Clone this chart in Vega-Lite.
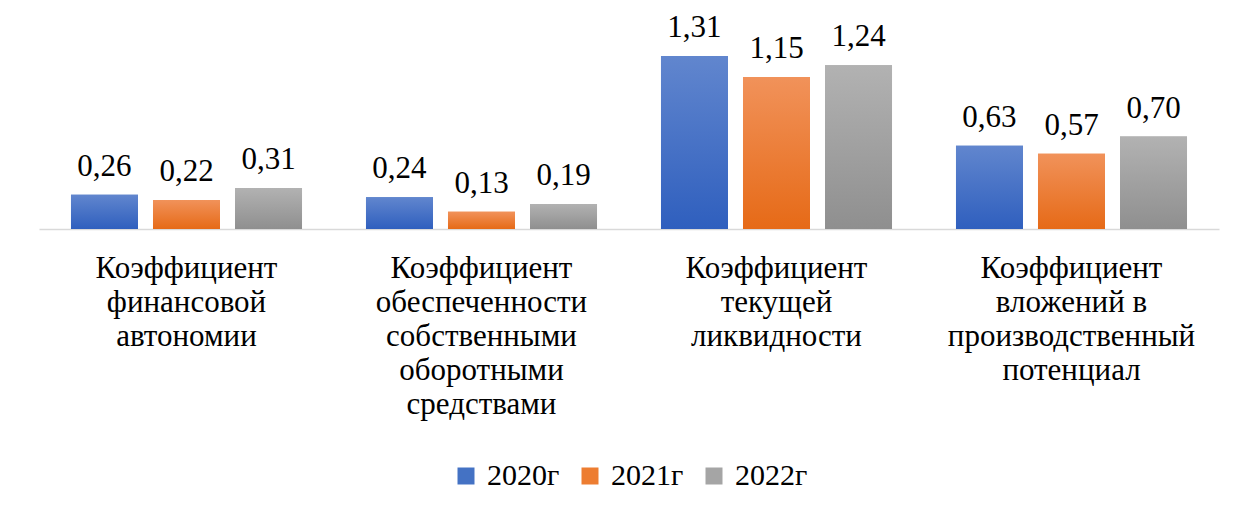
{
  "$schema": "https://vega.github.io/schema/vega-lite/v6.json",
  "width": 1180,
  "height": 185,
  "autosize": {"type": "none"},
  "padding": {"left": 39, "top": 44, "right": 19, "bottom": 281},
  "config": {
    "locale": {"number": {"decimal": ",", "thousands": " ", "grouping": [3], "currency": ["", ""]}},
    "view": {"stroke": null},
    "font": "Liberation Serif"
  },
  "data": {
    "values": [
      {"cat": "Коэффициент финансовой автономии", "year": "2020г", "value": 0.26},
      {"cat": "Коэффициент финансовой автономии", "year": "2021г", "value": 0.22},
      {"cat": "Коэффициент финансовой автономии", "year": "2022г", "value": 0.31},
      {"cat": "Коэффициент обеспеченности собственными оборотными средствами", "year": "2020г", "value": 0.24},
      {"cat": "Коэффициент обеспеченности собственными оборотными средствами", "year": "2021г", "value": 0.13},
      {"cat": "Коэффициент обеспеченности собственными оборотными средствами", "year": "2022г", "value": 0.19},
      {"cat": "Коэффициент текущей ликвидности", "year": "2020г", "value": 1.31},
      {"cat": "Коэффициент текущей ликвидности", "year": "2021г", "value": 1.15},
      {"cat": "Коэффициент текущей ликвидности", "year": "2022г", "value": 1.24},
      {"cat": "Коэффициент вложений в производственный потенциал", "year": "2020г", "value": 0.63},
      {"cat": "Коэффициент вложений в производственный потенциал", "year": "2021г", "value": 0.57},
      {"cat": "Коэффициент вложений в производственный потенциал", "year": "2022г", "value": 0.70}
    ]
  },
  "encoding": {
    "x": {
      "field": "cat",
      "type": "nominal",
      "sort": null,
      "title": null,
      "scale": {"paddingInner": 0, "paddingOuter": 0},
      "axis": {
        "labelAngle": 0,
        "labelExpr": "datum.label == 'Коэффициент вложений в производственный потенциал' ? ['Коэффициент', 'вложений в', 'производственный', 'потенциал'] : split(datum.label, ' ')",
        "labelFont": "Liberation Serif",
        "labelFontSize": 31,
        "labelLineHeight": 34,
        "labelColor": "#000000",
        "labelLimit": 0,
        "labelPadding": 24,
        "labelBaseline": "top",
        "ticks": false,
        "grid": false,
        "domainColor": "#D9D9D9",
        "domainWidth": 1.5
      }
    },
    "xOffset": {
      "field": "year",
      "type": "nominal",
      "scale": {"paddingInner": 0.183, "paddingOuter": 0.39}
    },
    "y": {
      "field": "value",
      "type": "quantitative",
      "scale": {"domain": [0, 1.4]},
      "axis": null
    }
  },
  "layer": [
    {
      "mark": {"type": "bar"},
      "encoding": {
        "color": {
          "field": "year",
          "type": "nominal",
          "scale": {
            "domain": ["2020г", "2021г", "2022г"],
            "range": ["#4472C4", "#ED7D31", "#A5A5A5"]
          },
          "legend": {
            "orient": "none",
            "legendX": 412,
            "legendY": 417,
            "direction": "horizontal",
            "title": null,
            "symbolType": "square",
            "symbolSize": 289,
            "symbolStrokeWidth": 0,
            "symbolOpacity": 1,
            "labelFont": "Liberation Serif",
            "labelFontSize": 30,
            "labelColor": "#000000",
            "columnPadding": 15,
            "labelOffset": 6
          }
        }
      }
    },
    {
      "mark": {"type": "bar"},
      "encoding": {
        "color": {
          "condition": [
            {"test": "datum.year == '2020г'", "value": {"gradient": "linear", "x1": 0, "y1": 0, "x2": 0, "y2": 1, "stops": [{"offset": 0, "color": "#6186CE"}, {"offset": 1, "color": "#2F5FBE"}]}},
            {"test": "datum.year == '2021г'", "value": {"gradient": "linear", "x1": 0, "y1": 0, "x2": 0, "y2": 1, "stops": [{"offset": 0, "color": "#F1925A"}, {"offset": 1, "color": "#E66A17"}]}}
          ],
          "value": {"gradient": "linear", "x1": 0, "y1": 0, "x2": 0, "y2": 1, "stops": [{"offset": 0, "color": "#B2B2B2"}, {"offset": 1, "color": "#8F8F8F"}]}
        }
      }
    },
    {
      "mark": {"type": "text", "baseline": "alphabetic", "dy": -19, "fontSize": 31, "font": "Liberation Serif", "color": "#000000"},
      "encoding": {
        "text": {"field": "value", "type": "quantitative", "format": ".2f"}
      }
    }
  ]
}
